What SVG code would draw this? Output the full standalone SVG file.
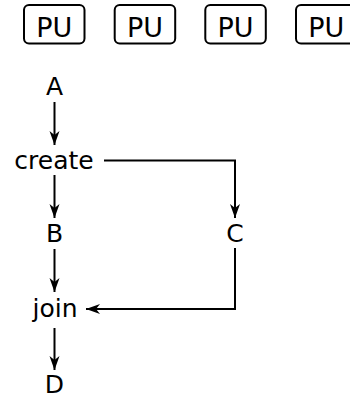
<svg xmlns="http://www.w3.org/2000/svg" width="350" height="396" viewBox="0 0 350 396">
<style>
text{font-family:"DejaVu Sans",sans-serif;font-size:25px;fill:#000;text-anchor:middle}
.pu{fill:#fff;stroke:#000;stroke-width:2}
.put{font-size:27px}
.c{fill:none;stroke:#000;stroke-width:2}
</style>
<defs>
<marker id="ah" markerUnits="userSpaceOnUse" markerWidth="18" markerHeight="14" viewBox="-15 -7 18 14" refX="0" refY="0" orient="auto">
<path d="M0,0 L-14,-5 L-10,0 L-14,5 Z" fill="#000"/>
</marker>
</defs>
<rect width="350" height="396" fill="#fff"/>
<g id="pu1"><rect class="pu" x="24" y="5" width="60.5" height="38.5" rx="5"/><text class="put" x="54.3" y="37">PU</text></g>
<g id="pu2"><rect class="pu" x="114.7" y="5" width="60.5" height="38.5" rx="5"/><text class="put" x="145" y="37">PU</text></g>
<g id="pu3"><rect class="pu" x="205.3" y="5" width="60.5" height="38.5" rx="5"/><text class="put" x="235.6" y="37">PU</text></g>
<g id="pu4"><rect class="pu" x="296" y="5" width="60.5" height="38.5" rx="5"/><text class="put" x="326.3" y="37">PU</text></g>
<g id="A"><text x="54.5" y="95">A</text></g>
<g id="create"><text x="54" y="168.5">create</text></g>
<g id="B"><text x="54.5" y="242">B</text></g>
<g id="C"><text x="235" y="242">C</text></g>
<g id="join"><text x="55" y="317">join</text></g>
<g id="D"><text x="54.5" y="393">D</text></g>
<g id="connectors">
<path class="c" d="M54.5,102 V145" marker-end="url(#ah)"/>
<path class="c" d="M54.5,175 V218" marker-end="url(#ah)"/>
<path class="c" d="M54.5,249 V292" marker-end="url(#ah)"/>
<path class="c" d="M54.5,328 V370" marker-end="url(#ah)"/>
<path class="c" d="M104,160.5 H235 V218" marker-end="url(#ah)"/>
<path class="c" d="M235,248 V309 H86" marker-end="url(#ah)"/>
</g>
</svg>
